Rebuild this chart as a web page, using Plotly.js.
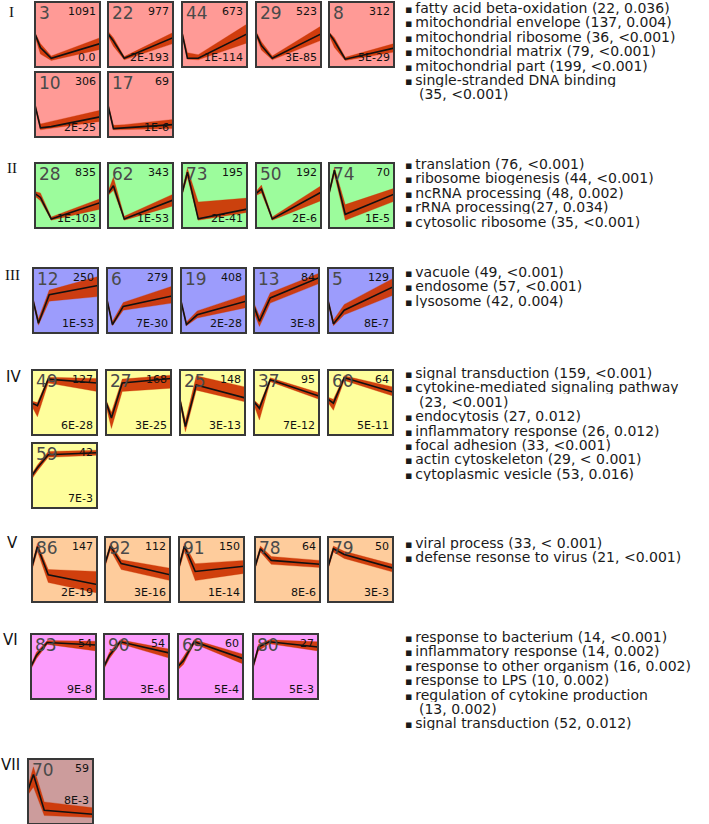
<!DOCTYPE html>
<html><head><meta charset="utf-8">
<script src="https://cdn.plot.ly/plotly-3.0.1.min.js"></script>
<style>html,body{margin:0;padding:0;background:#fff}</style>
</head><body><div id="chart" style="width:709px;height:824px"></div>
<script>
// ---------- DATA ----------
const timePoints = [0, 2, 6, 24];
const groupNames = ['I', 'II', 'III', 'IV', 'V', 'VI', 'VII'];
const profileIds = [[3, 22, 44, 29, 8, 10, 17], [28, 62, 73, 50, 74], [12, 6, 19, 13, 5], [49, 27, 25, 37, 60, 59], [86, 92, 91, 78, 79], [83, 90, 69, 80], [70]];
const geneCounts = [[1091, 977, 673, 523, 312, 306, 69], [835, 343, 195, 192, 70], [250, 279, 408, 84, 129], [127, 168, 148, 95, 64, 42], [147, 112, 150, 64, 50], [54, 54, 60, 27], [59]];
const pValues = [['0.0', '2E-193', '1E-114', '3E-85', '5E-29', '2E-25', '1E-6'], ['1E-103', '1E-53', '2E-41', '2E-6', '1E-5'], ['1E-53', '7E-30', '2E-28', '3E-8', '8E-7'], ['6E-28', '3E-25', '3E-13', '7E-12', '5E-11', '7E-3'], ['2E-19', '3E-16', '1E-14', '8E-6', '3E-3'], ['9E-8', '3E-6', '5E-4', '5E-3'], ['8E-3']];
// profile mean and band (low/high), relative expression at each time point
const profileMean = [
  [[0.51,0.30,0.135,0.36],[0.51,0.40,0.135,0.45],[0.53,0.135,0.135,0.51],[0.52,0.33,0.135,0.51],[0.52,0.40,0.12,0.29],[0.49,0.14,0.16,0.31],[0.49,0.13,0.14,0.19]],
  [[0.53,0.47,0.14,0.39],[0.53,0.65,0.14,0.43],[0.53,0.86,0.14,0.29],[0.53,0.60,0.14,0.55],[0.53,0.89,0.21,0.52]],
  [[0.51,0.15,0.59,0.73],[0.51,0.13,0.41,0.57],[0.49,0.13,0.28,0.49],[0.41,0.18,0.54,0.85],[0.50,0.14,0.35,0.71]],
  [[0.49,0.45,0.86,0.80],[0.51,0.26,0.80,0.87],[0.54,0.13,0.77,0.57],[0.51,0.41,0.85,0.60],[0.55,0.49,0.88,0.66],[0.50,0.62,0.82,0.85]],
  [[0.54,0.85,0.42,0.27],[0.59,0.86,0.59,0.42],[0.54,0.86,0.47,0.55],[0.54,0.82,0.64,0.58],[0.54,0.82,0.73,0.52]],
  [[0.50,0.67,0.87,0.83],[0.50,0.67,0.88,0.71],[0.50,0.59,0.88,0.62],[0.50,0.80,0.88,0.80]],
  [[0.52,0.76,0.21,0.15]]
];
const profileLow = [
  [[0.47,0.20,0.10,0.27],[0.48,0.32,0.11,0.36],[0.49,0.12,0.11,0.37],[0.48,0.26,0.11,0.41],[0.49,0.30,0.10,0.23],[0.46,0.11,0.13,0.24],[0.46,0.11,0.12,0.13]],
  [[0.49,0.42,0.12,0.29],[0.50,0.58,0.12,0.34],[0.50,0.78,0.12,0.24],[0.50,0.54,0.12,0.42],[0.50,0.82,0.12,0.41]],
  [[0.47,0.12,0.49,0.56],[0.48,0.11,0.35,0.46],[0.46,0.11,0.23,0.39],[0.31,0.10,0.46,0.76],[0.46,0.11,0.28,0.58]],
  [[0.44,0.28,0.80,0.67],[0.45,0.10,0.67,0.72],[0.48,0.05,0.69,0.51],[0.46,0.23,0.82,0.55],[0.50,0.38,0.84,0.60],[0.45,0.57,0.78,0.81]],
  [[0.49,0.78,0.30,0.14],[0.54,0.80,0.50,0.33],[0.49,0.78,0.33,0.44],[0.50,0.77,0.58,0.53],[0.50,0.77,0.67,0.46]],
  [[0.46,0.62,0.84,0.74],[0.46,0.62,0.85,0.63],[0.45,0.53,0.85,0.54],[0.46,0.74,0.85,0.74]],
  [[0.45,0.57,0.13,0.10]]
];
const profileHigh = [
  [[0.53,0.36,0.17,0.45],[0.55,0.45,0.16,0.53],[0.56,0.22,0.19,0.66],[0.55,0.39,0.17,0.63],[0.54,0.45,0.15,0.36],[0.52,0.20,0.24,0.41],[0.52,0.18,0.19,0.27]],
  [[0.56,0.54,0.17,0.45],[0.56,0.78,0.18,0.52],[0.58,0.92,0.40,0.46],[0.56,0.66,0.17,0.65],[0.57,0.93,0.36,0.61]],
  [[0.54,0.22,0.66,0.87],[0.54,0.18,0.47,0.72],[0.52,0.17,0.34,0.59],[0.46,0.26,0.62,0.92],[0.53,0.20,0.44,0.84]],
  [[0.52,0.50,0.89,0.87],[0.54,0.35,0.86,0.92],[0.58,0.22,0.91,0.74],[0.54,0.46,0.88,0.65],[0.58,0.55,0.91,0.74],[0.53,0.66,0.87,0.89]],
  [[0.58,0.90,0.50,0.47],[0.62,0.90,0.65,0.52],[0.58,0.90,0.59,0.64],[0.58,0.86,0.70,0.64],[0.58,0.86,0.78,0.58]],
  [[0.53,0.72,0.90,0.89],[0.53,0.72,0.91,0.77],[0.53,0.65,0.91,0.69],[0.53,0.84,0.91,0.88]],
  [[0.58,0.88,0.34,0.25]]
];
const groupTerms = [
  ['fatty acid beta-oxidation (22, 0.036)', 'mitochondrial envelope (137, 0.004)', 'mitochondrial ribosome (36, <0.001)', 'mitochondrial matrix (79, <0.001)', 'mitochondrial part (199, <0.001)', 'single-stranded DNA binding|(35, <0.001)'],
  ['translation (76, <0.001)', 'ribosome biogenesis (44, <0.001)', 'ncRNA processing (48, 0.002)', 'rRNA processing(27, 0.034)', 'cytosolic ribosome (35, <0.001)'],
  ['vacuole (49, <0.001)', 'endosome (57, <0.001)', 'lysosome (42, 0.004)'],
  ['signal transduction (159, <0.001)', 'cytokine-mediated signaling pathway|(23, <0.001)', 'endocytosis (27, 0.012)', 'inflammatory response (26, 0.012)', 'focal adhesion (33, <0.001)', 'actin cytoskeleton (29, < 0.001)', 'cytoplasmic vesicle (53, 0.016)'],
  ['viral process (33, < 0.001)', 'defense resonse to virus (21, <0.001)'],
  ['response to bacterium (14, <0.001)', 'inflammatory response (14, 0.002)', 'response to other organism (16, 0.002)', 'response to LPS (10, 0.002)', 'regulation of cytokine production|(13, 0.002)', 'signal transduction (52, 0.012)'],
  []
];

// ---------- STYLE / LAYOUT ----------
const W = 709, H = 824;
const groupColors = ['#ff9a96', '#9cfc9c', '#9c9cfc', '#fefe9c', '#fecc9c', '#fc9cfc', '#cc9c9c'];
const groupRowsTop = [[2, 72], [163], [268], [370, 443], [537], [634], [759]];
const groupColsX = [[35, 108, 182, 256, 329], [35, 108, 182, 256, 329], [33, 107, 181, 254, 328], [32, 106, 180, 254, 328], [32, 105, 179, 255, 328], [31, 104, 178, 253], [28]];
const labelPos = [[11, 12], [12, 168], [12, 275], [13, 377], [12, 543], [10, 640], [10, 765]];
const labelSerif = [true, true, true, false, false, false, false];
const listTop = [8, 164, 272, 373, 543, 637, 0];
const PW = 65, PH = 65, perRow = 5;
const lineStep = 14.4;

const px = x => x / W, py = y => 1 - y / H;
const traces = [], shapes = [], annotations = [];
const layout = {
  width: W, height: H, margin: {l: 0, r: 0, t: 0, b: 0},
  paper_bgcolor: '#fff', plot_bgcolor: 'rgba(0,0,0,0)', showlegend: false,
  font: {family: 'DejaVu Sans, Verdana, sans-serif'}
};
let k = 0;
profileIds.forEach((ids, g) => {
  ids.forEach((id, i) => {
    k++;
    const row = Math.floor(i / perRow), col = i % perRow;
    const x0 = groupColsX[g][col], y0 = groupRowsTop[g][row];
    const xa = 'x' + (k === 1 ? '' : k), ya = 'y' + (k === 1 ? '' : k);
    const xk = 'xaxis' + (k === 1 ? '' : k), yk = 'yaxis' + (k === 1 ? '' : k);
    const ax = {showgrid: false, zeroline: false, showline: false, showticklabels: false, ticks: '', fixedrange: true};
    layout[xk] = Object.assign({domain: [px(x0), px(x0 + PW)], range: [0, 24], anchor: ya}, ax);
    layout[yk] = Object.assign({domain: [py(y0 + PH), py(y0)], range: [0, 1], anchor: xa}, ax);
    shapes.push({type: 'rect', xref: xa + ' domain', yref: ya + ' domain', x0: 0, x1: 1, y0: 0, y1: 1,
      fillcolor: groupColors[g], line: {width: 0}, layer: 'below'});
    shapes.push({type: 'rect', xref: xa + ' domain', yref: ya + ' domain', x0: 0, x1: 1, y0: 0, y1: 1,
      fillcolor: 'rgba(0,0,0,0)', line: {width: 2, color: '#383838'}, layer: 'above'});
    const hi = profileHigh[g][i], lo = profileLow[g][i];
    traces.push({x: timePoints.concat(timePoints.slice().reverse()), y: hi.concat(lo.slice().reverse()),
      xaxis: xa, yaxis: ya, mode: 'lines', fill: 'toself', fillcolor: 'rgba(205,55,5,0.95)',
      line: {width: 0.5, color: 'rgba(205,55,5,0.6)'}, hoverinfo: 'skip'});
    traces.push({x: timePoints, y: profileMean[g][i], xaxis: xa, yaxis: ya, mode: 'lines',
      line: {width: 1.6, color: '#111'}, hoverinfo: 'skip'});
    annotations.push({xref: 'paper', yref: 'paper', x: px(x0 + 2), y: py(y0 - 1), xanchor: 'left', yanchor: 'top',
      text: String(id), showarrow: false, font: {size: 17, color: '#4a4a4a'}});
    annotations.push({xref: 'paper', yref: 'paper', x: px(x0 + PW - 2), y: py(y0 + 1), xanchor: 'right', yanchor: 'top',
      text: String(geneCounts[g][i]), showarrow: false, font: {size: 11, color: '#111'}});
    const pvBottom = (g === 6) ? y0 + 50 : y0 + PH - 1;
    annotations.push({xref: 'paper', yref: 'paper', x: px(x0 + PW - 2), y: py(pvBottom), xanchor: 'right', yanchor: 'bottom',
      text: pValues[g][i], showarrow: false, font: {size: 11, color: '#111'}});
  });
  annotations.push({xref: 'paper', yref: 'paper', x: px(labelPos[g][0]), y: py(labelPos[g][1]), xanchor: 'center', yanchor: 'middle',
    text: groupNames[g], showarrow: false,
    font: {size: 15, color: '#111', family: labelSerif[g] ? 'Liberation Serif, serif' : 'DejaVu Sans, sans-serif'}});
  let line = 0;
  groupTerms[g].forEach(t => {
    const parts = t.split('|');
    parts.forEach((p, j) => {
      annotations.push({xref: 'paper', yref: 'paper', x: px(j === 0 ? 404 : 418), y: py(listTop[g] + line * lineStep),
        xanchor: 'left', yanchor: 'middle', height: 14, valign: 'middle', borderpad: 0,
        text: (j === 0 ? '<span style="font-size:11px">\u25AA</span>\u2009' : '') + p, showarrow: false,
        font: {size: 14, color: '#1a1a1a'}});
      line++;
    });
  });
});
layout.shapes = shapes;
layout.annotations = annotations;
Plotly.newPlot('chart', traces, layout, {displayModeBar: false, staticPlot: true});
</script></body></html>
